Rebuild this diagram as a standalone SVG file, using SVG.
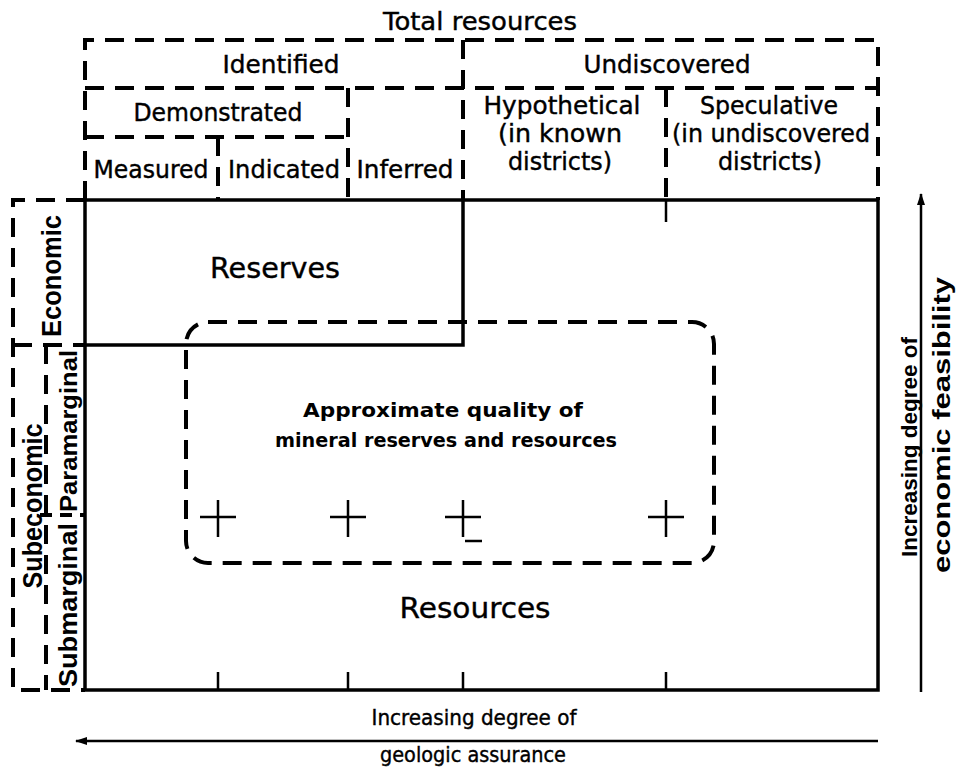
<svg xmlns="http://www.w3.org/2000/svg" width="958" height="769" viewBox="0 0 958 769">
<defs>
<style>
.solid{stroke:#000;stroke-width:3.5;fill:none;stroke-linecap:square}
.thin{stroke:#000;stroke-width:2.5;fill:none}
.dash{stroke:#000;stroke-width:4;fill:none;stroke-dasharray:19 11}
.t{font-family:"DejaVu Sans","Liberation Sans",sans-serif;font-size:24px;fill:#000;stroke:#000;stroke-width:0.4;text-anchor:middle}
.big{font-size:29px}
.b{font-family:"DejaVu Sans","Liberation Sans",sans-serif;font-weight:bold;font-size:20px;fill:#000;text-anchor:middle}
.side{font-family:"Liberation Sans","Arial",sans-serif;font-weight:bold;font-size:26px;fill:#000;text-anchor:middle}
</style>
<marker id="ah" markerWidth="12" markerHeight="10" refX="11" refY="5" orient="auto" markerUnits="userSpaceOnUse">
<path d="M0,1 L12,5 L0,9 Z" fill="#000"/>
</marker>
</defs>
<rect width="958" height="769" fill="#fff"/>

<g id="connectors">
  <path class="dash" d="M85,200 V40 H878 V200"/>
  <path class="dash" d="M85,88 H878"/>
  <path class="dash" d="M463,40 V200"/>
  <path class="dash" d="M85,137 H348"/>
  <path class="dash" d="M348,88 V200"/>
  <path class="dash" d="M218,137 V200"/>
  <path class="dash" d="M666,88 V200"/>
  <rect class="solid" x="85" y="200" width="793" height="490"/>
  <path class="solid" d="M85,345 H463 V200"/>
  <path class="thin" d="M666,200 V222"/>
  <path class="thin" d="M218,672 V690 M348,672 V690 M463,672 V690 M666,672 V690"/>
  <path class="dash" d="M85,200 H13 V690 H85"/>
  <path class="dash" d="M13,345 H85"/>
  <path class="dash" d="M46,345 V690"/>
  <path class="dash" d="M40,515 H85" style="stroke-dasharray:12 8"/>
  <rect class="dash" x="186" y="322" width="528" height="241" rx="22" ry="22"/>
  <path class="thin" d="M200,517 H236 M218,500 V537 M330,517 H366 M348,500 V537 M445,517 H481 M463,500 V537 M648,517 H684 M666,500 V537"/>
  <path class="thin" d="M465,541 H482"/>
  <line class="thin" x1="878" y1="741" x2="76" y2="741" marker-end="url(#ah)"/>
  <line class="thin" x1="921" y1="692" x2="921" y2="194" marker-end="url(#ah)"/>
</g>

<g id="total"><text class="t" x="480" y="30" textLength="194" lengthAdjust="spacingAndGlyphs">Total resources</text></g>
<g id="identified"><text class="t" x="281" y="73" textLength="117" lengthAdjust="spacingAndGlyphs">Identified</text></g>
<g id="undiscovered"><text class="t" x="667" y="73" textLength="167" lengthAdjust="spacingAndGlyphs">Undiscovered</text></g>
<g id="demonstrated"><text class="t" x="218" y="121" textLength="169" lengthAdjust="spacingAndGlyphs">Demonstrated</text></g>
<g id="measured"><text class="t" x="151" y="178" textLength="115" lengthAdjust="spacingAndGlyphs">Measured</text></g>
<g id="indicated"><text class="t" x="284" y="178" textLength="112" lengthAdjust="spacingAndGlyphs">Indicated</text></g>
<g id="inferred"><text class="t" x="405" y="178" textLength="97" lengthAdjust="spacingAndGlyphs">Inferred</text></g>
<g id="hypothetical">
  <text class="t" x="562" y="114" textLength="157" lengthAdjust="spacingAndGlyphs">Hypothetical</text>
  <text class="t" x="560" y="142" textLength="124" lengthAdjust="spacingAndGlyphs">(in known</text>
  <text class="t" x="560" y="170" textLength="104" lengthAdjust="spacingAndGlyphs">districts)</text>
</g>
<g id="speculative">
  <text class="t" x="769" y="114" textLength="138" lengthAdjust="spacingAndGlyphs">Speculative</text>
  <text class="t" x="771" y="142" textLength="198" lengthAdjust="spacingAndGlyphs">(in undiscovered</text>
  <text class="t" x="770" y="170" textLength="104" lengthAdjust="spacingAndGlyphs">districts)</text>
</g>
<g id="reserves"><text class="t big" x="275" y="278" textLength="130" lengthAdjust="spacingAndGlyphs">Reserves</text></g>
<g id="resources"><text class="t big" x="475" y="618" textLength="151" lengthAdjust="spacingAndGlyphs">Resources</text></g>
<g id="quality">
  <text class="b" x="443" y="417" textLength="280" lengthAdjust="spacingAndGlyphs">Approximate quality of</text>
  <text class="b" x="446" y="447" textLength="342" lengthAdjust="spacingAndGlyphs">mineral reserves and resources</text>
</g>
<g id="economic"><text class="side" style="font-size:27px" transform="translate(61,276) rotate(-90)" textLength="122" lengthAdjust="spacingAndGlyphs">Economic</text></g>
<g id="subeconomic"><text class="side" style="font-size:27px" transform="translate(42,506) rotate(-90)" textLength="165" lengthAdjust="spacingAndGlyphs">Subeconomic</text></g>
<g id="paramarginal"><text class="side" style="font-size:24px" transform="translate(77,431) rotate(-90)" textLength="162" lengthAdjust="spacingAndGlyphs">Paramarginal</text></g>
<g id="submarginal"><text class="side" transform="translate(77,605) rotate(-90)" textLength="164" lengthAdjust="spacingAndGlyphs">Submarginal</text></g>
<g id="geo-axis">
  <text class="t" x="474" y="725" style="font-size:21px" textLength="205" lengthAdjust="spacingAndGlyphs">Increasing degree of</text>
  <text class="t" x="473" y="762" style="font-size:21px" textLength="186" lengthAdjust="spacingAndGlyphs">geologic assurance</text>
</g>
<g id="econ-axis">
  <text class="side" style="font-size:22px" transform="translate(917,447) rotate(-90)" textLength="220" lengthAdjust="spacingAndGlyphs">Increasing degree of</text>
  <text class="side" style="font-size:24px" transform="translate(950,425) rotate(-90)" textLength="296" lengthAdjust="spacingAndGlyphs">economic feasibility</text>
</g>
</svg>
